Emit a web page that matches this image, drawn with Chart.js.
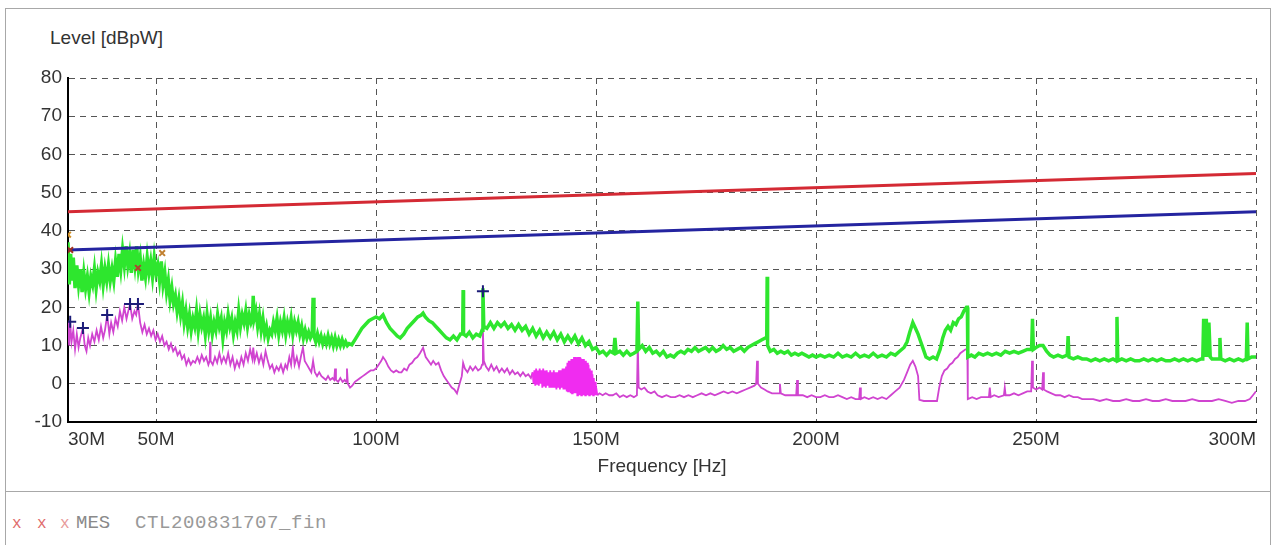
<!DOCTYPE html>
<html>
<head>
<meta charset="utf-8">
<script src="https://cdn.jsdelivr.net/npm/chart.js@4"></script>
<style>
    body { margin: 0; background: #fff; width: 1274px; height: 545px; overflow: hidden; position: relative; }
    #frame { position: absolute; left: 5px; top: 8px; width: 1264px; height: 560px; border: 1px solid #a8a8a8; }
    #divider { position: absolute; left: 5px; top: 491px; width: 1265px; height: 1px; background: #a8a8a8; }
    #yTitle { position: absolute; left: 50px; top: 27px; font: 19px "Liberation Sans", Arial, sans-serif; color: #333; }
    .leg { position: absolute; top: 512px; font: 19px "Liberation Mono", monospace; color: #999; white-space: pre; }
    .leg.mk { color: #e06a6a; font-size: 16px; top: 515px; }
    canvas { position: absolute; left: 0; top: 0; }
</style>
</head>
<body>
<div id="frame"></div>
<div id="divider"></div>
<div id="yTitle">Level [dBpW]</div>
<span class="leg mk" style="left:12px">x</span>
<span class="leg mk" style="left:37px">x</span>
<span class="leg mk" style="left:60px;color:#e89a9a">x</span>
<span class="leg" style="left:76px;color:#8a8a8a">MES</span>
<span class="leg" style="left:135px;letter-spacing:0.6px">CTL200831707_fin</span>
<canvas id="emcChart" width="1274" height="545"></canvas>
<script>
// Axis ticks
const freqTicks = [30, 50, 100, 150, 200, 250, 300];

// Limit lines (QP red, AV blue)
const limitFreq = [30, 300];
const qpLimit = [45, 55];
const avLimit = [35, 45];

// Peak scan (green)
const greenFreq = [
    30, 30.3, 30.6, 30.9, 31.2, 31.6, 32, 32.4, 32.8, 33.2, 33.6, 34, 34.4, 34.8, 35.2, 35.6, 36, 36.4, 36.8, 37.2,
    37.6, 38, 38.4, 38.8, 39.2, 39.6, 40, 40.4, 40.8, 41.2, 41.6, 42, 42.4, 42.8, 43.2, 43.6, 44, 44.4, 44.8, 45.2,
    45.6, 46, 46.4, 46.8, 47.2, 47.6, 48, 48.4, 48.8, 49.2, 49.6, 50, 50.4, 50.8, 51.2, 51.6, 52, 52.4, 52.8, 53.2,
    53.6, 54, 54.4, 54.8, 55.2, 55.6, 56, 56.4, 56.8, 57.2, 57.6, 58, 58.4, 58.8, 59.2, 59.6, 60, 60.4, 60.8, 61.2,
    61.6, 62, 62.4, 62.8, 63.2, 63.6, 64, 64.4, 64.8, 65.2, 65.6, 66, 66.4, 66.8, 67.2, 67.6, 68, 68.4, 68.8, 69.2,
    69.6, 70, 70.4, 70.8, 71.2, 71.6, 71.9, 72.1, 72.3, 72.7, 73.1, 73.5, 73.9, 74.3, 74.7, 75.1, 75.5, 75.9, 76.3, 76.7,
    77.1, 77.5, 77.9, 78.3, 78.7, 79.1, 79.5, 79.9, 80.3, 80.7, 81.1, 81.5, 81.9, 82.3, 82.7, 83.1, 83.5, 83.9, 84.3, 84.7,
    85.1, 85.5, 85.7, 85.9, 86.3, 86.7, 87.1, 87.5, 87.9, 88.3, 88.7, 89.1, 89.5, 89.9, 90.3, 90.7, 91.1, 91.5, 91.9, 92.3,
    92.7, 93.1, 93.5, 93.9, 94.5, 95.2, 96, 96.8, 97.6, 98.4, 99.2, 100, 100.8, 101.6, 102.4, 103.2, 104, 104.8, 105.5, 106.3,
    107.1, 107.9, 108.7, 109.5, 110.3, 110.7, 111.2, 112, 112.8, 113.6, 114.4, 115.2, 116, 116.8, 117.6, 118.4, 119.2, 119.7, 119.8, 119.9,
    120.5, 121.2, 122, 122.8, 123.6, 124.1, 124.3, 124.5, 125.2, 126, 126.8, 127.6, 128.4, 129.2, 130, 130.8, 131.6, 132.4, 133.2, 134,
    134.8, 135.6, 136.4, 137.2, 138, 138.8, 139.6, 140.4, 141.2, 142, 142.8, 143.6, 144.4, 145.2, 146, 146.8, 147.6, 148.4, 149.2, 150,
    150.8, 151.6, 152.4, 153.2, 154, 154.3, 154.6, 155.4, 156.2, 157, 157.8, 158.6, 159.3, 159.5, 159.7, 160.5, 161.3, 162.1, 162.9, 163.7,
    164.5, 165.3, 166.1, 166.9, 167.7, 168.5, 169.3, 170.1, 170.9, 171.7, 172.5, 173.3, 174.1, 174.9, 175.7, 176.5, 177.3, 178.1, 178.9, 179.7,
    180.5, 181.3, 182.1, 182.9, 183.7, 184.5, 185.3, 186.1, 186.9, 187.7, 188.5, 188.8, 188.9, 189, 189.6, 190.4, 191.2, 192, 192.8, 193.6,
    194.4, 195.2, 196, 196.8, 197.6, 198.4, 199.2, 200, 201, 202, 203, 204, 205, 206, 207, 208, 209, 210, 211, 212,
    213, 214, 215, 216, 217, 218, 219, 220, 220.7, 221.3, 222, 222.6, 223.2, 223.8, 224.4, 225, 225.8, 226.6, 227.4, 228.2,
    228.8, 229.4, 230, 230.6, 231.2, 231.8, 232.4, 233, 233.6, 234.2, 234.4, 234.5, 235.3, 236.1, 237, 238, 239, 240, 241, 242,
    243, 244, 245, 246, 247, 248, 249, 249.2, 249.4, 250, 250.8, 251.6, 252.4, 253.2, 254, 255, 256, 257.1, 257.3, 257.5,
    258.5, 259.5, 260.5, 261.5, 262.5, 263.5, 264.5, 265.5, 266.5, 267.5, 268.2, 268.4, 268.6, 269.5, 270.5, 271.5, 272.5, 273.5, 274.5, 275.5,
    276.5, 277.5, 278.5, 279.5, 280.5, 281.5, 282.5, 283.5, 284.5, 285.5, 286.5, 287.5, 287.9, 288.1, 288.4, 288.7, 289, 289.3, 289.6, 290,
    290.5, 291.6, 291.8, 292, 293, 294, 295, 296, 297, 297.8, 298, 298.2, 299, 300
];
const greenLevel = [
    37, 26, 34, 27, 33, 25, 31, 26, 30, 24, 29, 25, 28, 24, 28, 26, 30, 25, 29, 27,
    31, 26, 30, 27, 31, 27, 30, 27, 32, 28, 34, 30, 35, 31, 36, 31, 34, 29, 35, 31,
    36, 30, 33, 27, 31, 28, 33, 29, 32, 28, 33, 29, 31, 27, 32, 26, 29, 24, 27, 22,
    25, 21, 23, 19, 22, 18, 21, 16, 19, 15, 18, 14, 17, 15, 19, 14, 18, 15, 17, 13,
    18, 14, 17, 13, 16, 14, 18, 15, 17, 12, 16, 14, 18, 15, 17, 13, 16, 14, 19, 15,
    18, 16, 19, 15, 18, 16, 17, 23, 17, 19, 15, 18, 14, 17, 13, 15, 12, 14, 13, 16,
    14, 17, 13, 16, 14, 17, 13, 16, 14, 17, 13, 16, 14, 16, 13, 15, 12, 14, 12, 13.5,
    12, 13, 22.5, 12.5, 11, 13, 11, 12.5, 10.5, 12, 10.5, 12.5, 10.5, 12, 10, 12, 10, 11.5, 10, 11.5,
    10, 11, 10, 10.5, 10.2, 11.5, 13, 14.5, 15.5, 16.5, 17, 17.5, 17, 18, 16, 14.5, 13.5, 12.5, 12, 13,
    14.5, 15.5, 16.5, 17.5, 18, 18.5, 17.5, 16.5, 16, 15, 14, 13, 12, 11.5, 12.5, 11.5, 13, 13, 24.5, 13,
    12.5, 13.5, 12, 13, 12.5, 14, 25, 15, 14.5, 16, 14.5, 16, 15, 16, 14.5, 15.5, 14, 15.5, 14, 15,
    13, 14.5, 12.5, 14, 12, 13.5, 12, 13.5, 11.5, 13, 11, 12.5, 11, 12.5, 10.5, 12, 10, 11, 9, 9.5,
    8, 8.5, 7.5, 8.5, 8, 12, 8, 8.5, 7.5, 8.5, 7.5, 8, 8.5, 21.5, 9, 10, 8.5, 9.5, 8, 8.5,
    7.5, 8.5, 7, 7.5, 7, 8, 8.5, 8, 9, 8.5, 9.5, 8.5, 9, 9.5, 8.5, 9.5, 8.5, 9, 10, 9,
    9.5, 8.5, 9, 9.5, 8.5, 9.5, 10, 10.5, 11, 11.5, 12, 12, 28, 10, 8.5, 9, 8, 8.5, 8, 8.5,
    7.5, 8, 7.5, 8, 7.5, 7, 7.5, 7, 7.5, 7, 7.5, 7, 8, 7, 7.5, 7, 8, 7, 7.5, 7,
    8, 7, 7.5, 7, 8, 7.5, 8.5, 9.5, 11, 13.5, 16, 14.5, 13, 11, 9, 7, 6.5, 7, 6.5, 9,
    12, 14, 15, 14, 16, 15.5, 17, 17.5, 19, 20, 20, 7, 7.5, 7, 8, 7.5, 8, 7.5, 8, 7.5,
    8.5, 8, 8.5, 8, 8.5, 9, 9, 17, 9, 9.5, 10, 10, 8.5, 7.5, 7, 7.5, 7, 7.5, 12.5, 7,
    6.5, 7, 6.5, 6.5, 6, 6.5, 6, 6.5, 6, 6.5, 6, 17.5, 6, 6.5, 6, 6.5, 6, 6, 6.5, 6,
    6.5, 6, 6.5, 6, 6, 6.5, 6, 6.5, 6, 6.5, 6, 6.5, 6.5, 17, 7, 17, 7, 16, 7, 6.5,
    6.5, 6.5, 12, 6.5, 6, 6.5, 6, 6.5, 6, 6.5, 16, 6.5, 7, 7
];

// Average / final scan (magenta), 30 - 135 MHz
const magentaLowFreq = [
    30, 30.25, 30.5, 30.8, 31.2, 31.6, 32, 32.4, 32.8, 33.4, 33.8, 34.2, 34.6, 35, 35.5, 36, 36.5, 37, 37.5, 38,
    38.4, 38.9, 39.4, 39.8, 40.3, 40.8, 41.3, 41.8, 42.3, 42.8, 43.3, 43.7, 44.1, 44.6, 45.1, 45.5, 45.9, 46.4, 46.9, 47.4,
    47.9, 48.4, 48.9, 49.4, 49.9, 50.4, 50.9, 51.4, 51.9, 52.4, 52.9, 53.4, 53.9, 54.4, 54.9, 55.4, 55.9, 56.4, 56.9, 57.4,
    57.9, 58.4, 58.9, 59.4, 59.9, 60.4, 60.9, 61.4, 61.9, 62.2, 62.3, 62.4, 62.9, 63.4, 63.9, 64.4, 64.9, 65.4, 65.9, 66.4,
    66.9, 67.4, 67.9, 68.4, 68.9, 69.4, 69.9, 70.4, 70.9, 71.4, 71.9, 72.1, 72.4, 72.9, 73.4, 73.9, 74.4, 74.9, 75.4, 75.9,
    76.4, 76.9, 77.4, 77.9, 78.4, 78.9, 79.4, 79.8, 80.3, 80.7, 81.1, 81.5, 82, 82.5, 83, 83.4, 83.8, 84.3, 84.8, 85.3,
    85.7, 86.1, 86.6, 87.1, 87.6, 88.1, 88.6, 89.1, 89.6, 90.1, 90.5, 90.7, 90.9, 91.4, 91.9, 92.4, 92.9, 93.2, 93.4, 93.6,
    94.1, 94.6, 95.2, 95.8, 96.4, 97, 97.6, 98.2, 98.8, 99.4, 100, 100.6, 101.2, 101.6, 102.2, 102.8, 103.4, 104, 104.6, 105.2,
    105.8, 106.4, 107, 107.6, 108.2, 108.8, 109.4, 110, 110.7, 111.3, 111.9, 112.5, 113, 113.6, 114.2, 114.8, 115.4, 116, 116.6, 117.2,
    117.8, 118.4, 119, 119.5, 119.8, 120.2, 120.8, 121.4, 122, 122.6, 123.2, 123.8, 124.1, 124.3, 124.5, 125, 125.6, 126.2, 126.8, 127.4,
    128, 128.6, 129.2, 129.8, 130.4, 131, 131.6, 132.2, 132.8, 133.4, 134, 134.6, 135.2
];
const magentaLowLevel = [
    16.5, 10, 16, 11, 14, 9, 13, 9.5, 12, 14.6, 10, 8.5, 12, 10, 13, 11, 14, 11.5, 15, 12,
    14, 18, 13, 16, 13.5, 17, 15, 19, 16.5, 20, 17, 19, 20.9, 17, 19, 18, 20.9, 16, 13.5, 15.5,
    13, 14.5, 12.5, 14, 11.5, 13, 11, 12.5, 10, 11, 9, 10.5, 8.5, 9.5, 7.5, 8.5, 6.5, 7.5, 5, 6.5,
    5, 6, 5.5, 7, 5.5, 7.5, 6, 7, 5, 6, 11, 6, 5, 7, 5.5, 8, 5.5, 7, 5.5, 8,
    5, 7, 4, 6, 4.5, 7, 5, 8, 6, 9, 6.5, 9.5, 6, 8, 5.5, 7.5, 5, 8.5, 6, 4,
    5, 3, 4.5, 3.5, 5, 3, 5, 4, 7, 5, 9.5, 5, 7, 4.5, 7.5, 9.5, 6, 5, 4, 3,
    6, 3, 2, 3, 2, 1.5, 1, 2, 1, 1.5, 1, 4, 1, 0.5, 1.5, 0.5, 1, 0.5, 4, 0,
    -1, -0.5, 0.5, 1, 1.5, 2, 2.5, 3, 3.5, 3.5, 4, 5, 6, 7, 6, 4.5, 3.5, 3, 3.5, 3,
    3, 4, 3.5, 5, 5.5, 6.5, 7, 8, 9.4, 7, 6, 5, 6, 5, 5.5, 3.5, 2, 1, 0, -1,
    -1.5, -2.5, 0, 2, 5.5, 4, 3, 4.5, 3.5, 4.5, 3.5, 4, 5, 14, 6, 4.5, 3.5, 5, 3.5, 4.5,
    3, 4, 3, 4, 2.5, 3.5, 2.5, 3, 2, 3, 2, 2.5, 1.5
];

// Magenta dense band 135 - 150 MHz
const magentaBandFreq = [
    135.6, 135.8, 136, 136.2, 136.4, 136.6, 136.8, 137, 137.2, 137.4, 137.6, 137.8, 138, 138.2, 138.4, 138.6, 138.8, 139, 139.2, 139.4,
    139.6, 139.8, 140, 140.2, 140.4, 140.6, 140.8, 141, 141.2, 141.4, 141.6, 141.8, 142, 142.2, 142.4, 142.6, 142.8, 143, 143.2,
    143.35, 143.5, 143.65, 143.8, 143.95, 144.1, 144.25, 144.4, 144.55, 144.7, 144.85, 145, 145.15, 145.3, 145.45, 145.6, 145.75, 145.9, 146.05, 146.2,
    146.35, 146.5, 146.65, 146.8, 146.95, 147.1, 147.25, 147.4, 147.55, 147.7, 147.85, 148, 148.15, 148.3, 148.45, 148.6, 148.75, 148.9, 149.05, 149.2,
    149.35, 149.5, 149.65, 149.8, 149.95, 150.1, 150.3
];
const magentaBandLevel = [
    3, 0, 3.5, -0.5, 4, 0, 3.5, -0.5, 4, 0, 3.5, -1, 4, -0.5, 3.5, -1, 3.5, -0.5, 3, -1,
    3.5, -1, 3, -1, 3.5, -1, 3, -1.5, 3, -1, 3.5, -1.5, 3.5, -1, 4, -1.5, 4, -1.5, 4.5,
    -2, 5.5, -2, 6, -2, 6, -2.5, 6.5, -2.5, 6.5, -2.5, 7, -2.5, 7, -2.5, 6.8, -3, 7, -3, 7,
    -3, 6.8, -3, 6.5, -3, 6.5, -3, 6, -3, 6, -3, 5.5, -3, 5, -3, 4, -3, 3.5, -3, 2.5,
    -3, 1.5, -3, 0.5, -3, -1.5, -3
];

// Magenta 150 - 300 MHz
const magentaHighFreq = [
    150.8, 151.5, 152.2, 153, 153.8, 154.6, 155.4, 156.2, 157, 157.8, 158.6, 159.3, 159.5, 159.7, 160.3, 161, 161.7,
    162.5, 163.3, 164, 165, 166, 167, 168, 169, 170, 171, 172, 173, 174, 175, 176, 177, 178, 179, 180, 181,
    182, 183, 184, 185, 186, 186.4, 186.6, 186.8, 187.5, 188.3, 189, 190, 191, 191.6, 191.8, 192, 193, 194, 195.5, 195.7,
    195.9, 197, 198, 199, 200, 201, 202, 203, 204, 205, 206, 207, 208, 209, 209.8, 210, 210.2, 211, 212, 213,
    214, 215, 216, 217, 218, 219, 220, 220.7, 221.4, 222, 222.6, 223.2, 223.5, 224.5, 225.5, 226.5, 227.5, 228, 228.6, 229.2,
    229.8, 230.4, 231, 231.6, 232.2, 232.8, 233.4, 234, 234.4, 234.5, 235.5, 236.5, 237.5, 238.5, 239.3, 239.5, 239.7, 240.5, 241.5, 242.7,
    242.9, 243.1, 244, 245, 246, 247, 248, 248.9, 249.1, 249.3, 250, 250.8, 251.4, 251.6, 251.8, 252.5, 253.5, 254.5, 255.5, 256.5,
    257.5, 258.5, 259.5, 260.5, 261.5, 263, 264.5, 266, 267.5, 269, 270.5, 272, 273.5, 275, 276.5, 278, 279.5, 281, 282.5, 284,
    285.5, 287, 288.5, 290, 291.5, 293, 294.5, 296, 297.5, 298.6, 299.3, 300
];
const magentaHighLevel = [
    -2.5, -3, -2.5, -3, -3, -2.5, -3.5, -3, -3.5, -3, -3.5, -3, 10.7, -1, -1.5, -1, -2,
    -2.5, -2, -3, -3.5, -3, -3.5, -3.5, -3, -3.5, -3, -3.5, -3, -2.5, -3, -2.5, -3, -2.5, -2, -2.5, -2,
    -2.5, -2, -1.5, -1, -0.5, 0, 6, 0, -1, -1.5, -2, -2.5, -2.5, -2.5, 0, -2.5, -3, -3, -3, 1,
    -3, -3, -3.5, -3, -3.5, -3.5, -3, -3.5, -3.5, -3, -3.5, -4, -3.5, -4, -4, -1, -4, -3.5, -4, -3.5,
    -4, -3.5, -4, -3, -2, -1, 1, 3, 5, 6, 4.5, 2, -4.2, -4.5, -4.5, -4.5, -4.5, -1, 2, 3.5,
    4, 5, 5.5, 6.5, 7, 8, 8.5, 9, 9, -4, -3.5, -4, -3.5, -3.5, -3.5, -1, -3.5, -3, -3.5, -3,
    -1, -3, -3, -2.5, -3, -2.5, -2, -2, 6, -1, -1.5, -1, -1.5, 3, -1.5, -2, -2.5, -3, -3, -3.5,
    -3, -3.5, -3.5, -4, -4, -4, -4.5, -4, -4.5, -4.5, -4, -4.5, -4.5, -4, -4.5, -4.5, -4, -4.5, -4.5, -4.5,
    -4, -4.5, -4.5, -4.5, -4, -4.5, -5, -4.5, -4.5, -4, -3, -2
];

// Final measurement markers
const avgMarkFreq = [30.5, 33.4, 38.9, 44.1, 45.9, 124.3];
const avgMarkLevel = [16.2, 14.6, 18, 20.9, 20.9, 24.2];
const qpMarkFreq = [30, 30.5, 45.9, 51.4];
const qpMarkLevel = [39, 35, 30.3, 34.2];

function toPoints(xs, ys) {
    return xs.map((x, i) => ({ x: x, y: ys[i] }));
}

const magentaPoints = toPoints(magentaLowFreq, magentaLowLevel)
    .concat(toPoints(magentaBandFreq, magentaBandLevel))
    .concat(toPoints(magentaHighFreq, magentaHighLevel));

const bandStart = magentaBandFreq[0];
const bandEnd = magentaBandFreq[magentaBandFreq.length - 1];

const tickFont = { family: '"Liberation Sans", Arial, sans-serif', size: 19 };

const ctx = document.getElementById('emcChart').getContext('2d');
const emcChart = new Chart(ctx, {
    type: 'line',
    data: {
        datasets: [
            {
                label: 'AV marks',
                data: toPoints(avgMarkFreq, avgMarkLevel),
                showLine: false,
                pointStyle: 'cross',
                pointRadius: 6,
                pointBorderWidth: 2,
                pointBorderColor: '#1c1c78'
            },
            {
                label: 'QP marks',
                data: toPoints(qpMarkFreq, qpMarkLevel),
                showLine: false,
                pointStyle: 'crossRot',
                pointRadius: 4,
                pointBorderWidth: 2,
                pointBorderColor: ['#d09028', '#a03020', '#b04030', '#c08030']
            },
            {
                label: 'QP limit',
                data: toPoints(limitFreq, qpLimit),
                borderColor: '#d42a34',
                borderWidth: 3,
                pointRadius: 0
            },
            {
                label: 'AV limit',
                data: toPoints(limitFreq, avLimit),
                borderColor: '#2424a0',
                borderWidth: 3,
                pointRadius: 0
            },
            {
                label: 'Peak',
                data: toPoints(greenFreq, greenLevel),
                borderColor: '#2ee62e',
                borderWidth: 3.5,
                pointRadius: 0
            },
            {
                label: 'Average',
                data: magentaPoints,
                borderColor: '#d044d0',
                borderWidth: 1.8,
                pointRadius: 0,
                segment: {
                    borderColor: function(c) {
                        const x0 = c.p0.parsed.x;
                        return (x0 >= bandStart && x0 < bandEnd) ? '#f02cf0' : undefined;
                    }
                }
            }
        ]
    },
    options: {
        responsive: false,
        animation: false,
        events: [],
        layout: {
            padding: { top: 78, right: 18, bottom: 63, left: 0 }
        },
        plugins: {
            legend: { display: false },
            tooltip: { enabled: false }
        },
        elements: {
            line: { tension: 0 }
        },
        scales: {
            x: {
                type: 'linear',
                min: 30,
                max: 300,
                afterBuildTicks: function(scale) {
                    scale.ticks = freqTicks.map(v => ({ value: v }));
                },
                afterFit: function(scale) {
                    scale.height = 60;
                },
                ticks: {
                    autoSkip: false,
                    maxRotation: 0,
                    align: 'inner',
                    padding: 6,
                    color: '#333',
                    font: tickFont,
                    callback: function(value) {
                        return value + 'M';
                    }
                },
                grid: {
                    color: '#555',
                    lineWidth: 1,
                    drawTicks: false
                },
                border: {
                    display: true,
                    color: '#000',
                    width: 2,
                    dash: [6, 5]
                },
                title: {
                    display: true,
                    text: 'Frequency [Hz]',
                    color: '#333',
                    font: tickFont
                }
            },
            y: {
                min: -10,
                max: 80,
                afterFit: function(scale) {
                    scale.width = 68;
                },
                ticks: {
                    stepSize: 10,
                    padding: 6,
                    color: '#333',
                    font: tickFont
                },
                grid: {
                    color: '#555',
                    lineWidth: 1,
                    drawTicks: false
                },
                border: {
                    display: true,
                    color: '#000',
                    width: 2,
                    dash: [6, 5]
                }
            }
        }
    }
});
</script>
</body>
</html>
